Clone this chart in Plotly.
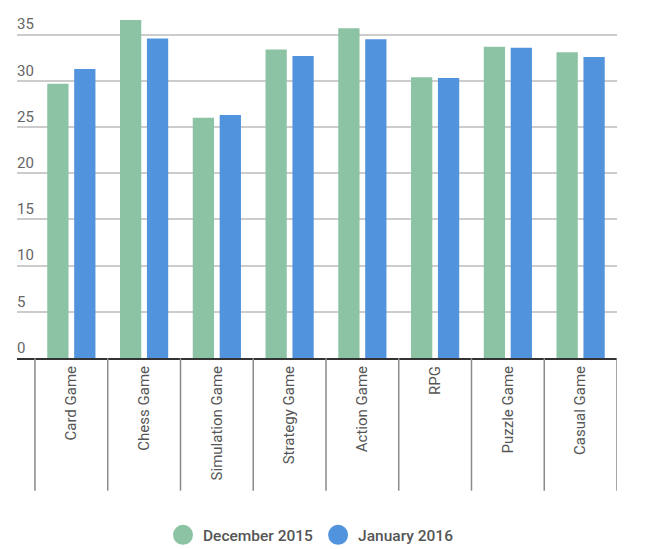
import plotly.graph_objects as go

categories = ["Card Game", "Chess Game", "Simulation Game", "Strategy Game",
              "Action Game", "RPG", "Puzzle Game", "Casual Game"]
dec_2015 = [29.7, 36.6, 26.0, 33.4, 35.7, 30.4, 33.7, 33.1]
jan_2016 = [31.3, 34.6, 26.3, 32.7, 34.5, 30.3, 33.6, 32.6]
series_names = ["December 2015", "January 2016"]
series_colors = ["#8cc3a5", "#5193dc"]
y_ticks = [0, 5, 10, 15, 20, 25, 30, 35]

x_idx = list(range(len(categories)))

fig = go.Figure()
for name, vals, col in zip(series_names, [dec_2015, jan_2016], series_colors):
    fig.add_trace(go.Bar(x=x_idx, y=vals, name=name, marker=dict(color=col, line=dict(width=0)),
                         showlegend=False))
for name, col in zip(series_names, series_colors):
    fig.add_trace(go.Scatter(x=[None], y=[None], mode="markers", name=name,
                             marker=dict(color=col, size=22, symbol="circle",
                                         line=dict(color=col, width=4))))

shapes = []
for i in range(len(categories) + 1):
    shapes.append(dict(type="line", xref="x", yref="paper", x0=i - 0.5, x1=i - 0.5,
                       y0=0, y1=-0.378, line=dict(color="#8a8a8a", width=1.5)))

fig.update_layout(
    width=646, height=549,
    margin=dict(l=17, r=29, t=7, b=190.5, autoexpand=False),
    paper_bgcolor="white", plot_bgcolor="white",
    barmode="group", bargap=0.26, bargroupgap=0.21,
    font=dict(family="Roboto", color="#555"),
    shapes=shapes,
    legend=dict(orientation="h", x=0.49, xanchor="center", y=-0.505, yanchor="middle",
                font=dict(size=15.5, color="#555", weight=500), itemsizing="trace"),
    xaxis=dict(tickmode="array", tickvals=x_idx, ticktext=categories, tickangle=-90,
               range=[-0.747, 7.5], showgrid=False, ticks="", showline=True,
               linecolor="#333", linewidth=2, tickfont=dict(size=15, color="#555"),
               zeroline=False, automargin=False),
    yaxis=dict(range=[0, 38], tickvals=y_ticks, showgrid=True, gridcolor="#cccccc",
               gridwidth=1.5, zeroline=False, ticklabelposition="inside top",
               ticklabelstandoff=-3, automargin=False,
               tickfont=dict(size=15, color="#666"), showline=False),
)

fig.write_html("out.html", config={"displayModeBar": False},
               post_script="document.body.style.margin='0px';")
